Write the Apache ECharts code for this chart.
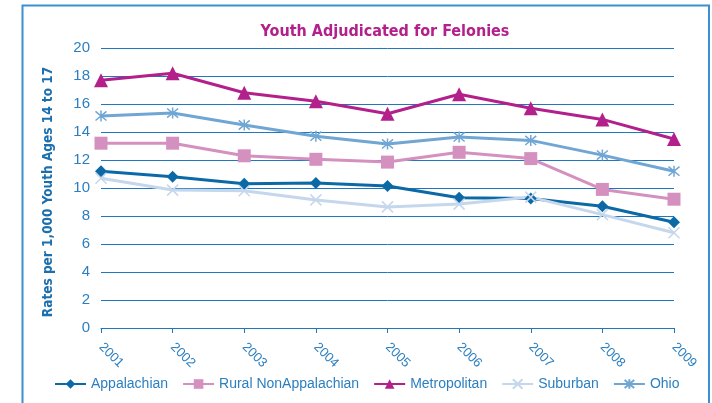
<!DOCTYPE html>
<html><head><meta charset="utf-8">
<script src="https://cdn.jsdelivr.net/npm/echarts@6/dist/echarts.min.js"></script>
<style>html,body{margin:0;padding:0;background:#fff}#c{width:712px;height:403px}</style>
</head><body><div id="c"></div>
<script>
const years = ['2001','2002','2003','2004','2005','2006','2007','2008','2009'];
const appalachian = [11.2, 10.8, 10.3, 10.35, 10.15, 9.3, 9.25, 8.7, 7.55];
const ruralNonAppalachian = [13.2, 13.2, 12.3, 12.05, 11.85, 12.55, 12.1, 9.9, 9.2];
const metropolitan = [17.7, 18.2, 16.8, 16.2, 15.3, 16.7, 15.7, 14.9, 13.5];
const suburban = [10.7, 9.85, 9.8, 9.15, 8.65, 8.85, 9.35, 8.1, 6.8];
const ohio = [15.15, 15.35, 14.5, 13.7, 13.15, 13.65, 13.4, 12.35, 11.2];
const yTicks = [0, 2, 4, 6, 8, 10, 12, 14, 16, 18, 20];

const narrow = '"DejaVu Sans Condensed", sans-serif';
const sans = '"Liberation Sans", Arial, sans-serif';
const textBlue = '#2b7fc0';
const gridBlue = '#1f78bf';

function mk(name, data, color, symbol, size, stroke) {
  return {
    name, type: 'line', data,
    symbol, symbolSize: size,
    lineStyle: { color, width: 3 },
    itemStyle: stroke ? { color, borderColor: color, borderWidth: 1.5 } : { color, borderWidth: 0 },
    emphasis: { disabled: true }
  };
}

const chart = echarts.init(document.getElementById('c'), null, { renderer: 'canvas' });
chart.setOption({
  animation: false,
  backgroundColor: '#fff',
  title: {
    text: 'Youth Adjudicated for Felonies',
    left: 380, top: 19, textAlign: 'center',
    textStyle: { fontFamily: narrow, fontWeight: 'bold', fontSize: 16, color: '#b3208c' }
  },
  graphic: [{
    type: 'rect', shape: { x: 22.5, y: 5.5, width: 686.5, height: 430 },
    style: { fill: 'none', stroke: '#3a90d0', lineWidth: 2 }, silent: true
  }],
  grid: { left: 101, right: 38, top: 48, bottom: 75 },
  xAxis: {
    type: 'category', data: years, boundaryGap: false,
    axisLine: { lineStyle: { color: gridBlue, width: 1 } },
    axisTick: { show: true, length: 5, lineStyle: { color: gridBlue } },
    axisLabel: { rotate: -45, margin: 17, fontFamily: sans, fontSize: 13, color: textBlue }
  },
  yAxis: {
    type: 'value', min: 0, max: 20, interval: 2,
    name: 'Rates per 1,000 Youth Ages 14 to 17', nameLocation: 'middle', nameGap: 46,
    nameTextStyle: { fontFamily: narrow, fontWeight: 'bold', fontSize: 13.5, color: '#1b6fae', padding: [0, 8, 0, 0] },
    axisLine: { show: false }, axisTick: { show: false },
    axisLabel: { margin: 11, fontFamily: sans, fontSize: 15, color: textBlue,
      formatter: v => yTicks.includes(v) ? String(v) : '' },
    splitLine: { lineStyle: { color: gridBlue, width: 1 } }
  },
  legend: {
    left: 49, top: 372, itemWidth: 31, itemHeight: 12, itemGap: 14,
    textStyle: { fontFamily: sans, fontSize: 14, color: textBlue },
    data: ['Appalachian', 'Rural NonAppalachian', 'Metropolitan', 'Suburban', 'Ohio']
  },
  series: [
    mk('Appalachian', appalachian, '#0b6aa6', 'diamond', 12, false),
    mk('Rural NonAppalachian', ruralNonAppalachian, '#d491c0', 'rect', 13, false),
    mk('Metropolitan', metropolitan, '#b3208c', 'triangle', 14, false),
    mk('Suburban', suburban, '#c5d7ec', 'path://M0,0 L10,10 M10,0 L0,10', 11, true),
    mk('Ohio', ohio, '#70a6d4', 'path://M0,0 L10,10 M10,0 L0,10 M5,-1 L5,11', 11, true)
  ]
});
</script></body></html>
